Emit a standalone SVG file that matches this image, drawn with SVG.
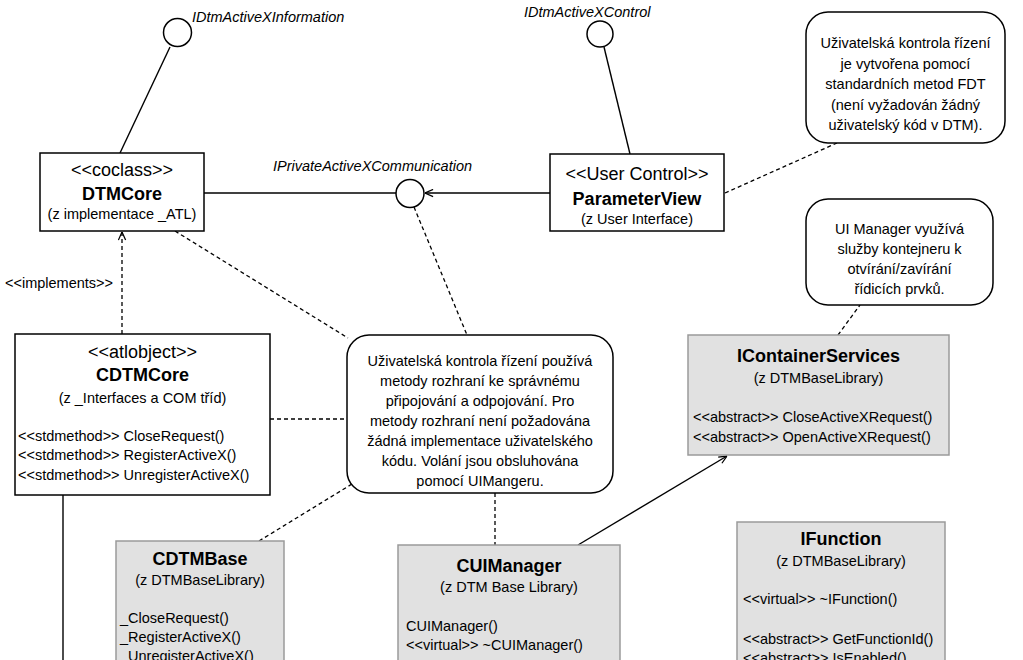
<svg xmlns="http://www.w3.org/2000/svg" width="1023" height="660" viewBox="0 0 1023 660">
<defs>
<marker id="open" viewBox="0 0 10 10" refX="10" refY="5" markerWidth="9" markerHeight="9" markerUnits="userSpaceOnUse" orient="auto">
<path d="M1,1 L10,5 L1,9" fill="none" stroke="#000" stroke-width="1.4"/>
</marker>
</defs>
<style>
text{font-family:"Liberation Sans",Arial,sans-serif;fill:#000}
.st{font-size:18px;text-anchor:middle}
.ti{font-size:18px;font-weight:bold;text-anchor:middle}
.sub{font-size:14.5px;text-anchor:middle}
.m{font-size:14.5px}
.nt{font-size:14.5px;text-anchor:middle}
.it{font-size:14.5px;font-style:italic}
.box{fill:#fff;stroke:#000;stroke-width:1.5}
.gbox{fill:#e1e1e1;stroke:#9a9a9a;stroke-width:1.5}
.note{fill:#fff;stroke:#000;stroke-width:1.5}
.ln{fill:none;stroke:#000;stroke-width:1.4}
.dl{fill:none;stroke:#000;stroke-width:1.3;stroke-dasharray:4 3}
.lol{fill:#fff;stroke:#000;stroke-width:1.5}
</style>
<rect width="1023" height="660" fill="#fff"/>

<g id="connectors">
<line class="ln" x1="170" y1="47" x2="120" y2="153"/>
<line class="ln" x1="604" y1="47" x2="630" y2="154"/>
<line class="ln" x1="204" y1="193" x2="396" y2="193"/>
<line class="ln" x1="550" y1="193" x2="425" y2="193" marker-end="url(#open)"/>
<line class="dl" x1="122" y1="334" x2="122" y2="232" marker-end="url(#open)"/>
<line class="ln" x1="63" y1="495" x2="63" y2="660"/>
<line class="dl" x1="414" y1="207" x2="467" y2="335"/>
<line class="dl" x1="175" y1="231" x2="348" y2="338"/>
<line class="dl" x1="270" y1="419" x2="347" y2="419"/>
<line class="dl" x1="259" y1="541" x2="352" y2="484"/>
<line class="dl" x1="495" y1="493" x2="495" y2="545"/>
<line class="dl" x1="725" y1="193" x2="837" y2="143"/>
<line class="dl" x1="838" y1="335" x2="860" y2="305"/>
<line class="ln" x1="578" y1="545" x2="727" y2="456" marker-end="url(#open)"/>
<text class="m" x="5" y="288">&lt;&lt;implements&gt;&gt;</text>
</g>

<g id="IDtmActiveXInformation">
<circle class="lol" cx="177.5" cy="32.5" r="14"/>
<text class="it" x="192" y="22">IDtmActiveXInformation</text>
</g>

<g id="IDtmActiveXControl">
<circle class="lol" cx="600" cy="34" r="13"/>
<text class="it" x="524" y="17">IDtmActiveXControl</text>
</g>

<g id="IPrivateActiveXCommunication">
<circle class="lol" cx="410" cy="193.5" r="14"/>
<text class="it" x="273" y="171">IPrivateActiveXCommunication</text>
</g>

<g id="DTMCore">
<rect class="box" x="40" y="153" width="164" height="78"/>
<text class="st" x="122" y="175.5">&lt;&lt;coclass&gt;&gt;</text>
<text class="ti" x="122" y="199.5">DTMCore</text>
<text class="sub" x="122" y="218.5">(z implementace _ATL)</text>
</g>

<g id="ParameterView">
<rect class="box" x="550" y="154" width="174" height="77"/>
<text class="st" x="637" y="179.5">&lt;&lt;User Control&gt;&gt;</text>
<text class="ti" x="637" y="204.5">ParameterView</text>
<text class="sub" x="637" y="223.5">(z User Interface)</text>
</g>

<g id="noteFDT">
<rect class="note" x="806" y="12" width="199" height="131" rx="22"/>
<text class="nt" x="905.5" y="48">Uživatelská kontrola řízení</text>
<text class="nt" x="905.5" y="68.5">je vytvořena pomocí</text>
<text class="nt" x="905.5" y="89">standardních metod FDT</text>
<text class="nt" x="905.5" y="109.5">(není vyžadován žádný</text>
<text class="nt" x="905.5" y="130">uživatelský kód v DTM).</text>
</g>

<g id="noteUIManager">
<rect class="note" x="806" y="199" width="187" height="106" rx="22"/>
<text class="nt" x="899.5" y="234">UI Manager využívá</text>
<text class="nt" x="899.5" y="254">služby kontejneru k</text>
<text class="nt" x="899.5" y="274">otvírání/zavírání</text>
<text class="nt" x="899.5" y="294">řídicích prvků.</text>
</g>

<g id="CDTMCore">
<rect class="box" x="15" y="334" width="255" height="161"/>
<text class="st" x="142.5" y="358">&lt;&lt;atlobject&gt;&gt;</text>
<text class="ti" x="142.5" y="380.5">CDTMCore</text>
<text class="sub" x="142.5" y="403">(z _Interfaces a COM tříd)</text>
<text class="m" x="18" y="440.5">&lt;&lt;stdmethod&gt;&gt; CloseRequest()</text>
<text class="m" x="18" y="460">&lt;&lt;stdmethod&gt;&gt; RegisterActiveX()</text>
<text class="m" x="18" y="479.5">&lt;&lt;stdmethod&gt;&gt; UnregisterActiveX()</text>
</g>

<g id="noteMiddle">
<rect class="note" x="347" y="335" width="266" height="158" rx="22"/>
<text class="nt" x="480" y="366">Uživatelská kontrola řízení používá</text>
<text class="nt" x="480" y="386">metody rozhraní ke správnému</text>
<text class="nt" x="480" y="406">připojování a odpojování. Pro</text>
<text class="nt" x="480" y="426">metody rozhraní není požadována</text>
<text class="nt" x="480" y="446">žádná implementace uživatelského</text>
<text class="nt" x="480" y="466">kódu. Volání jsou obsluhována</text>
<text class="nt" x="480" y="486">pomocí UIMangeru.</text>
</g>

<g id="IContainerServices">
<rect class="gbox" x="688" y="335" width="261" height="120"/>
<text class="ti" x="818.5" y="361.5">IContainerServices</text>
<text class="sub" x="818.5" y="382.5">(z DTMBaseLibrary)</text>
<text class="m" x="693" y="421.5">&lt;&lt;abstract&gt;&gt; CloseActiveXRequest()</text>
<text class="m" x="693" y="441.5">&lt;&lt;abstract&gt;&gt; OpenActiveXRequest()</text>
</g>

<g id="CDTMBase">
<rect class="gbox" x="116" y="541" width="168" height="130"/>
<text class="ti" x="200" y="564.5">CDTMBase</text>
<text class="sub" x="200" y="584.5">(z DTMBaseLibrary)</text>
<text class="m" x="120" y="622.5">_CloseRequest()</text>
<text class="m" x="120" y="641.5">_RegisterActiveX()</text>
<text class="m" x="120" y="660.5">_UnregisterActiveX()</text>
</g>

<g id="CUIManager">
<rect class="gbox" x="398" y="545" width="222" height="126"/>
<text class="ti" x="509" y="571.5">CUIManager</text>
<text class="sub" x="509" y="591.5">(z DTM Base Library)</text>
<text class="m" x="406" y="630.5">CUIManager()</text>
<text class="m" x="406" y="649.5">&lt;&lt;virtual&gt;&gt; ~CUIManager()</text>
</g>

<g id="IFunction">
<rect class="gbox" x="737" y="522" width="208" height="149"/>
<text class="ti" x="841" y="544.5">IFunction</text>
<text class="sub" x="841" y="565.5">(z DTMBaseLibrary)</text>
<text class="m" x="743" y="603.5">&lt;&lt;virtual&gt;&gt; ~IFunction()</text>
<text class="m" x="743" y="643.5">&lt;&lt;abstract&gt;&gt; GetFunctionId()</text>
<text class="m" x="743" y="662.5">&lt;&lt;abstract&gt;&gt; IsEnabled()</text>
</g>
</svg>
